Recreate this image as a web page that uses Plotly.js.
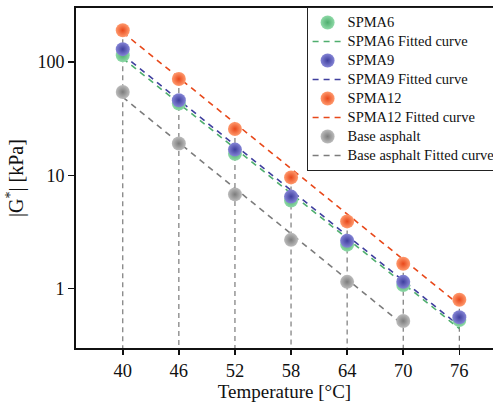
<!DOCTYPE html>
<html><head><meta charset="utf-8">
<script src="https://cdn.plot.ly/plotly-3.0.1.min.js"></script>
<style>html,body{margin:0;padding:0;background:#fff}</style>
</head><body>
<div id="chart" style="width:493px;height:403px"></div>
<script>
const temps = [40, 46, 52, 58, 64, 70, 76];
const tempsBase = [40, 46, 52, 58, 64, 70];
const spma6 = [115, 43, 15.5, 6.0, 2.45, 1.08, 0.53];
const spma9 = [130, 46, 16.9, 6.5, 2.65, 1.15, 0.56];
const spma12 = [191, 70.8, 25.7, 9.6, 3.93, 1.66, 0.80];
const base = [54.5, 19.1, 6.8, 2.7, 1.15, 0.52];
const fitX = [40, 76];
const fitXBase = [40, 70];
const fit6 = [108, 0.445];
const fit9 = [116, 0.47];
const fit12 = [183, 0.72];
const fitBase = [49, 0.48];
const dropBottom = 0.2;
const tickVals = [1, 10, 100];
const tickText = ['1', '10', '100'];

const colors = {
  g: '#4fae6e', gl: '#8fdaa8',
  b: '#3f3f9e', bl: '#8585d6',
  o: '#e8481a', ol: '#ff9a6e',
  k: '#7c7c7c', kl: '#bdbdbd'
};

// drop lines from top (SPMA12) marker down to axis
const dx = [], dy = [];
temps.forEach((t, i) => { dx.push(t, t, null); dy.push(spma12[i], dropBottom, null); });

function lbl(s) { return '<span style="font-size:14.5px">' + s + '</span>'; }
function pts(x, y, c, cl, name) {
  return {x: x, y: y, name: lbl(name), type: 'scatter', mode: 'markers',
    marker: {size: 14, color: cl, gradient: {type: 'radial', color: c}, line: {width: 0}},
    cliponaxis: false};
}
function fit(x, y, c, name) {
  return {x: x, y: y, name: lbl(name), type: 'scatter', mode: 'lines',
    line: {color: c, width: 1.6, dash: '6px,5px'}};
}

const data = [
  {x: dx, y: dy, type: 'scatter', mode: 'lines', showlegend: false, hoverinfo: 'skip',
   line: {color: '#7a7a7a', width: 1.2, dash: '5px,4px'}},
  Object.assign(fit(fitX, fit6, colors.g, 'SPMA6 Fitted curve'), {legendrank: 2}),
  Object.assign(fit(fitX, fit9, colors.b, 'SPMA9 Fitted curve'), {legendrank: 4}),
  Object.assign(fit(fitX, fit12, colors.o, 'SPMA12 Fitted curve'), {legendrank: 6}),
  Object.assign(fit(fitXBase, fitBase, colors.k, 'Base asphalt Fitted curve'), {legendrank: 8}),
  Object.assign(pts(temps, spma6, colors.g, colors.gl, 'SPMA6'), {legendrank: 1}),
  Object.assign(pts(temps, spma9, colors.b, colors.bl, 'SPMA9'), {legendrank: 3}),
  Object.assign(pts(temps, spma12, colors.o, colors.ol, 'SPMA12'), {legendrank: 5}),
  Object.assign(pts(tempsBase, base, colors.k, colors.kl, 'Base asphalt'), {legendrank: 7})
];

const font = {family: '"Liberation Serif", "Times New Roman", serif', color: '#111'};
const layout = {
  width: 493, height: 403,
  margin: {l: 76, r: 0, t: 8, b: 55, autoexpand: false},
  paper_bgcolor: '#fff', plot_bgcolor: '#fff',
  font: Object.assign({size: 18}, font),
  showlegend: true,
  legend: {x: 0.553, y: 1.003, xanchor: 'left', yanchor: 'top',
    bgcolor: '#fff', bordercolor: '#222', borderwidth: 1,
    font: Object.assign({size: 12}, font), tracegroupgap: 0,
    itemwidth: 30, traceorder: 'normal'},
  xaxis: {range: [35, 79.6], tickvals: temps, ticktext: temps.map(String),
    showline: true, linecolor: '#111', linewidth: 2, mirror: true,
    ticks: 'outside', ticklen: 5, tickwidth: 1.5, tickcolor: '#111',
    showgrid: false, zeroline: false,
    title: {text: 'Temperature [°C]', font: Object.assign({size: 19}, font), standoff: 4},
    tickfont: Object.assign({size: 18.5}, font)},
  yaxis: {type: 'log', range: [Math.log10(0.30), Math.log10(300)],
    tickvals: tickVals, ticktext: tickText,
    showline: true, linecolor: '#111', linewidth: 2,
    ticks: 'outside', ticklen: 6, tickwidth: 1.5, tickcolor: '#111',
    showgrid: false, zeroline: false,
    title: {text: '|G<sup>*</sup>| [kPa]', font: Object.assign({size: 20}, font), standoff: 8},
    tickfont: Object.assign({size: 18}, font)}
};
Plotly.newPlot('chart', data, layout, {displayModeBar: false, staticPlot: true});
</script>
</body></html>
